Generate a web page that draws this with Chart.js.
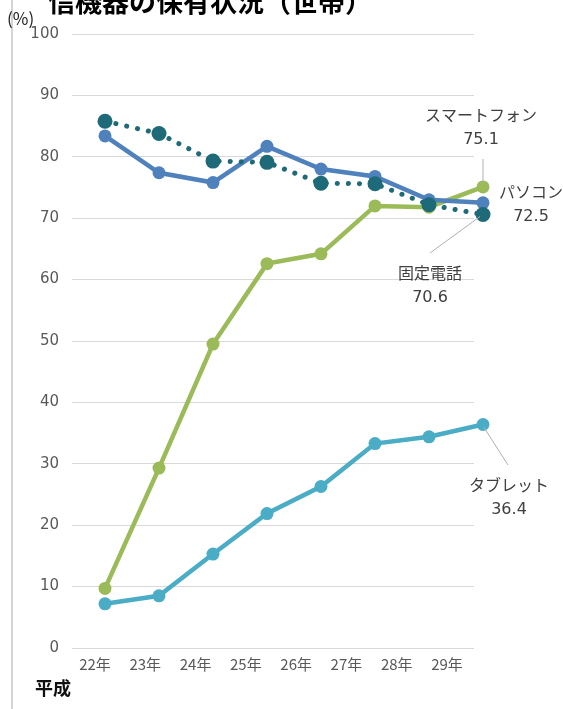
<!DOCTYPE html>
<html>
<head>
<meta charset="utf-8">
<script src="https://cdn.jsdelivr.net/npm/chart.js"></script>
<style>
  body { margin: 0; background: #fff; }
  canvas { display: block; }
</style>
</head>
<body>
<canvas id="grafico" width="563" height="709"></canvas>
<script>
// --- Datos ---
const anios = ["22年", "23年", "24年", "25年", "26年", "27年", "28年", "29年"];
const smartphone = [9.7, 29.3, 49.5, 62.6, 64.2, 72.0, 71.8, 75.1];
const pc = [83.4, 77.4, 75.8, 81.7, 78.0, 76.8, 73.0, 72.5];
const telefonoFijo = [85.8, 83.8, 79.3, 79.1, 75.7, 75.6, 72.2, 70.6];
const tableta = [7.2, 8.5, 15.3, 21.9, 26.3, 33.3, 34.4, 36.4];
const yMin = 0, yMax = 100, yPaso = 10;

const puntos = arr => arr.map((v, i) => ({ x: i, y: v }));
const FIN_GRILLA = 473; // las lineas de grilla terminan antes del ultimo punto

function serie(nombre, valores, color, orden, extra) {
    return Object.assign({
        label: nombre,
        data: puntos(valores),
        borderColor: color,
        backgroundColor: color,
        borderWidth: 4.5,
        pointRadius: 6.5,
        pointBorderWidth: 0,
        tension: 0,
        clip: false,
        order: orden
    }, extra || {});
}

const extras = {
    id: "extras",
    beforeDraw(chart) {
        const ctx = chart.ctx;
        ctx.save();
        ctx.fillStyle = "#fff";
        ctx.fillRect(0, 0, chart.width, chart.height);
        ctx.restore();
    },
    beforeDatasetsDraw(chart) {
        // tapar la grilla a la derecha
        const a = chart.chartArea, ctx = chart.ctx;
        ctx.save();
        ctx.fillStyle = "#fff";
        ctx.fillRect(FIN_GRILLA + 1, a.top - 2, a.right - FIN_GRILLA + 2, a.bottom - a.top + 4);
        ctx.restore();
    },
    afterDraw(chart) {
        const ctx = chart.ctx;
        const x = chart.scales.x, y = chart.scales.y;
        const px = i => x.getPixelForValue(i);
        const py = v => y.getPixelForValue(v);
        ctx.save();

        // linea gris izquierda
        ctx.fillStyle = "#d4d4d4";
        ctx.fillRect(11, 0, 2, chart.height);

        // titulo (cortado arriba)
        ctx.fillStyle = "#000";
        ctx.font = "bold 27px 'Noto Sans CJK JP'";
        ctx.textBaseline = "middle";
        ctx.textAlign = "left";
        ctx.fillText("信機器の保有状況（世帯）", 48, 2);

        ctx.font = "17px 'Noto Sans CJK JP'";
        ctx.fillStyle = "#222";
        ctx.fillText("(%)", 7, 19);

        ctx.font = "bold 18px 'Noto Sans CJK JP'";
        ctx.fillStyle = "#111";
        ctx.fillText("平成", 35, 688);

        // lineas guia
        const ult = anios.length - 1;
        ctx.strokeStyle = "#b0b0b0";
        ctx.lineWidth = 1;
        ctx.beginPath();
        ctx.moveTo(px(ult), py(smartphone[ult]) - 4);
        ctx.lineTo(px(ult), 159);
        ctx.moveTo(px(ult) - 3, py(telefonoFijo[ult]) + 2);
        ctx.lineTo(430, 253);
        ctx.moveTo(px(ult) + 1, py(tableta[ult]) + 3);
        ctx.lineTo(508, 465);
        ctx.stroke();

        // etiquetas
        ctx.fillStyle = "#404040";
        ctx.textAlign = "center";
        const etiqueta = (txt, val, cx, cy) => {
            ctx.font = "16px 'Noto Sans CJK JP'";
            ctx.fillText(txt, cx, cy);
            ctx.font = "16px 'DejaVu Sans'";
            ctx.fillText(val.toFixed(1), cx, cy + 25);
        };
        etiqueta("スマートフォン", smartphone[ult], 481, 115);
        etiqueta("パソコン", pc[ult], 531, 192);
        etiqueta("固定電話", telefonoFijo[ult], 430, 273);
        etiqueta("タブレット", tableta[ult], 509, 485);

        ctx.restore();
    }
};

// area de datos: 72 -> 495 px; punto 0 en 105, punto 7 en 483
const izq = 72, der = 495, p0 = 105, p7 = 483;
const u = (p7 - p0) / 7;
const xMin = -(p0 - izq) / u, xMax = xMin + (der - izq) / u;
// etiquetas del eje: centros 95 -> 447
const l0 = 95, l7 = 447;
const u2 = (l7 - l0) / 7;
const x2Min = -(l0 - izq) / u2, x2Max = x2Min + (der - izq) / u2;

new Chart(document.getElementById("grafico"), {
    type: "line",
    data: {
        datasets: [
            serie("固定電話", telefonoFijo, "#1f6a78", 0, {
                borderDash: [0.1, 11],
                borderCapStyle: "round",
                borderWidth: 5,
                pointRadius: 7.5
            }),
            serie("パソコン", pc, "#4f81bd", 1),
            serie("スマートフォン", smartphone, "#9bbb59", 2),
            serie("タブレット", tableta, "#4bacc6", 3)
        ]
    },
    options: {
        responsive: false,
        animation: false,
        layout: { padding: { left: 0, right: 563 - der, top: 34, bottom: 31 } },
        plugins: { legend: { display: false }, tooltip: { enabled: false } },
        scales: {
            x: {
                type: "linear",
                min: xMin,
                max: xMax,
                display: false
            },
            x2: {
                type: "linear",
                position: "bottom",
                min: x2Min,
                max: x2Max,
                grid: { display: false, drawTicks: false },
                border: { display: false },
                afterBuildTicks: s => { s.ticks = anios.map((_, i) => ({ value: i })); },
                afterFit: s => { s.height = 30; },
                ticks: {
                    autoSkip: false,
                    maxRotation: 0,
                    padding: 7,
                    color: "#595959",
                    font: { size: 15, family: "'Noto Sans CJK JP'" },
                    callback: v => anios[v]
                }
            },
            y: {
                min: yMin,
                max: yMax,
                afterFit: s => { s.width = 72; },
                border: { display: false },
                grid: { color: "#d9d9d9", lineWidth: 1, drawTicks: false },
                ticks: {
                    stepSize: yPaso,
                    padding: 13,
                    color: "#595959",
                    font: { size: 15, family: "'DejaVu Sans'" }
                }
            }
        }
    },
    plugins: [extras]
});
</script>
</body>
</html>
